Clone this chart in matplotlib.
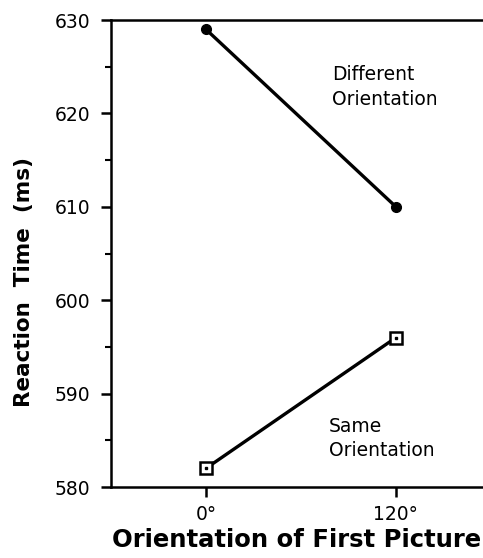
import matplotlib
matplotlib.use("Agg")
import matplotlib.pyplot as plt
from matplotlib.ticker import MultipleLocator

# orientation of first picture (degrees)
orient = [0, 120]
tick_labels = ["0°", "120°"]
# reaction times (ms)
rt_different = [629, 610]
rt_same = [582, 596]

plt.rcParams['font.family'] = ['DejaVu Sans']

fig = plt.figure(figsize=(4.83, 5.58), dpi=100)
ax = fig.add_axes([0.2298, 0.1272, 0.7702, 0.8369])

ax.plot(orient, rt_different, color="black", lw=2.4, marker="o", ms=7,
        mfc="black", mec="black", zorder=3)
ax.plot(orient, rt_same, color="black", lw=2.4, marker="s", ms=8,
        mfc="white", mec="black", mew=1.8, zorder=3)
ax.plot(orient, rt_same, ls="none", marker="s", ms=1.5, color="black", zorder=4)

ax.text(0.594, 0.904, "Different\nOrientation", transform=ax.transAxes,
        fontsize=13.5, va="top", ha="left", linespacing=1.4)
ax.text(0.585, 0.150, "Same\nOrientation", transform=ax.transAxes,
        fontsize=13.5, va="top", ha="left", linespacing=1.35)

ax.set_xlim(-60, 175)
ax.set_ylim(580, 630)
ax.set_xticks(orient)
ax.set_xticklabels(tick_labels)
ax.yaxis.set_major_locator(MultipleLocator(10))
ax.yaxis.set_minor_locator(MultipleLocator(5))

ax.spines['right'].set_visible(False)
for s in ['left', 'top', 'bottom']:
    ax.spines[s].set_linewidth(1.8)

ax.tick_params(axis='both', which='major', direction='out', length=7, width=1.8,
               labelsize=13.5, pad=6)
ax.tick_params(axis='y', which='minor', direction='out', length=4, width=1.5)
ax.tick_params(axis='y', pad=8)

ax.set_ylabel("Reaction  Time  (ms)", fontsize=15.5, fontweight="bold")
ax.yaxis.set_label_coords(-0.207, 0.44)
ax.set_xlabel("Orientation of First Picture", fontsize=17.5, fontweight="bold",
              labelpad=3)

fig.savefig("out.png", dpi=100)
